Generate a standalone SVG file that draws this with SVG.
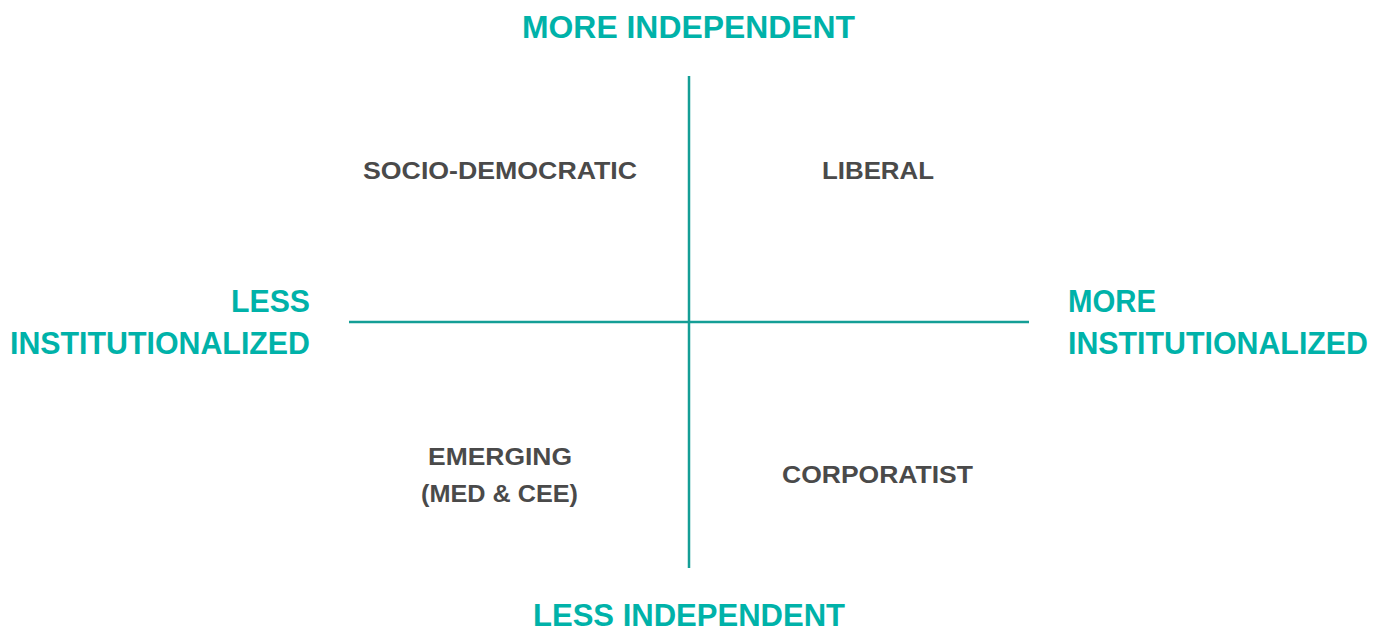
<svg xmlns="http://www.w3.org/2000/svg" width="1385" height="631" viewBox="0 0 1385 631">
<style>
.ax{font-family:"Liberation Sans",Arial,sans-serif;font-weight:bold;font-size:32px;fill:#00b2a9}
.q{font-family:"Liberation Sans",Arial,sans-serif;font-weight:bold;font-size:24px;fill:#4a4a4a}
.ln{stroke:#149e96;stroke-width:2.5;fill:none}
</style>
<rect width="1385" height="631" fill="#ffffff"/>
<g id="connectors">
<line class="ln" x1="689" y1="76" x2="689" y2="568"/>
<line class="ln" x1="349" y1="322" x2="1029" y2="322"/>
</g>
<g id="axis-top"><text class="ax" x="522" y="38" textLength="333" lengthAdjust="spacingAndGlyphs">MORE INDEPENDENT</text></g>
<g id="axis-bottom"><text class="ax" x="533" y="626" textLength="312" lengthAdjust="spacingAndGlyphs">LESS INDEPENDENT</text></g>
<g id="axis-left">
<text class="ax" x="231" y="312" textLength="79" lengthAdjust="spacingAndGlyphs">LESS</text>
<text class="ax" x="10" y="354" textLength="300" lengthAdjust="spacingAndGlyphs">INSTITUTIONALIZED</text>
</g>
<g id="axis-right">
<text class="ax" x="1068" y="312" textLength="88" lengthAdjust="spacingAndGlyphs">MORE</text>
<text class="ax" x="1068" y="354" textLength="300" lengthAdjust="spacingAndGlyphs">INSTITUTIONALIZED</text>
</g>
<g id="socio-democratic"><text class="q" x="363" y="179" textLength="274" lengthAdjust="spacingAndGlyphs">SOCIO-DEMOCRATIC</text></g>
<g id="liberal"><text class="q" x="822" y="179" textLength="112" lengthAdjust="spacingAndGlyphs">LIBERAL</text></g>
<g id="emerging">
<text class="q" x="428" y="465" textLength="144" lengthAdjust="spacingAndGlyphs">EMERGING</text>
<text class="q" x="421" y="502" textLength="157" lengthAdjust="spacingAndGlyphs">(MED &amp; CEE)</text>
</g>
<g id="corporatist"><text class="q" x="782" y="483" textLength="191" lengthAdjust="spacingAndGlyphs">CORPORATIST</text></g>
</svg>
